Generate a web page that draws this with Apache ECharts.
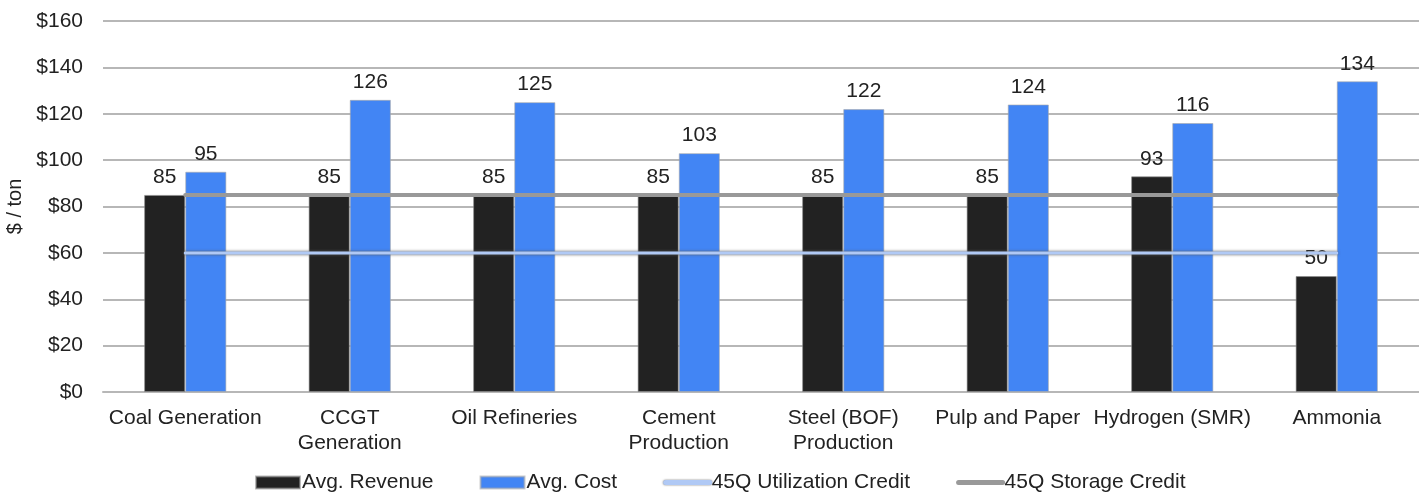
<!DOCTYPE html>
<html>
<head>
<meta charset="utf-8">
<script src="https://cdn.jsdelivr.net/npm/echarts@6/dist/echarts.min.js"></script>
<style>
  html, body { margin: 0; padding: 0; background: #fff; }
  #chart { width: 1419px; height: 496px; }
</style>
</head>
<body>
<div id="chart"></div>
<script>
// Capture cost vs. revenue by industrial source ($ / ton)
const categories = [
  'Coal Generation', 'CCGT\nGeneration', 'Oil Refineries', 'Cement\nProduction',
  'Steel (BOF)\nProduction', 'Pulp and Paper', 'Hydrogen (SMR)', 'Ammonia'
];
const avgRevenue = [85, 85, 85, 85, 85, 85, 93, 50];
const avgCost = [95, 126, 125, 103, 122, 124, 116, 134];
const utilizationCredit = [60, 60, 60, 60, 60, 60, 60, 60];
const storageCredit = [85, 85, 85, 85, 85, 85, 85, 85];

const FONT = '"Liberation Sans", Arial, Helvetica, sans-serif';
const TEXT = '#222';
const FS = 21;

const UTIL_BLUE = '#b0c9f5';
const STORAGE_GREY = '#999999';

const chart = echarts.init(document.getElementById('chart'), null, { renderer: 'canvas' });

const valueLabel = {
  show: true,
  position: 'top',
  distance: 7,
  color: TEXT,
  fontFamily: FONT,
  fontSize: FS
};

// line legend entries: a thick rounded stroke, no marker
const hiddenMarker = { opacity: 0, borderWidth: 0 };

chart.setOption({
  animation: false,
  backgroundColor: '#fff',
  textStyle: { fontFamily: FONT, color: TEXT },
  grid: { left: 103, right: 0, top: 21, bottom: 104, outerBoundsMode: 'none', containLabel: false },
  legend: {
    bottom: -2,
    left: 250,
    itemWidth: 44,
    itemHeight: 12,
    itemGap: 46,
    textStyle: { fontFamily: FONT, fontSize: FS, color: TEXT, padding: [0, 0, 0, -3] },
    data: [
      { name: 'Avg. Revenue', icon: 'rect' },
      { name: 'Avg. Cost', icon: 'rect' },
      {
        name: '45Q Utilization Credit',
        itemStyle: hiddenMarker,
        lineStyle: { color: UTIL_BLUE, width: 5, cap: 'round', shadowColor: 'rgba(90,90,90,0.9)', shadowBlur: 2 }
      },
      {
        name: '45Q Storage Credit',
        itemStyle: hiddenMarker,
        lineStyle: { color: STORAGE_GREY, width: 5, cap: 'round' }
      }
    ]
  },
  xAxis: {
    type: 'category',
    data: categories,
    boundaryGap: true,
    axisLine: { show: true, lineStyle: { color: '#b7b7b7', width: 2 } },
    axisTick: { show: false },
    axisLabel: {
      color: TEXT,
      fontFamily: FONT,
      fontSize: FS,
      margin: 14,
      lineHeight: 25,
      interval: 0
    }
  },
  yAxis: {
    type: 'value',
    min: 0,
    max: 160,
    interval: 20,
    name: '$ / ton',
    nameLocation: 'middle',
    nameGap: 76,
    nameRotate: 90,
    nameTextStyle: { color: TEXT, fontFamily: FONT, fontSize: 20 },
    axisLine: { show: false },
    axisTick: { show: false },
    axisLabel: {
      color: TEXT,
      fontFamily: FONT,
      fontSize: FS,
      margin: 20,
      formatter: v => '$' + v
    },
    splitLine: { lineStyle: { color: '#b7b7b7', width: 2 } }
  },
  series: [
    {
      name: 'Avg. Revenue',
      type: 'bar',
      data: avgRevenue,
      barGap: '0%',
      barCategoryGap: '50%',
      itemStyle: { color: '#222222', borderColor: 'rgba(140,140,140,0.6)', borderWidth: 1 },
      label: valueLabel,
      z: 2
    },
    {
      name: 'Avg. Cost',
      type: 'bar',
      data: avgCost,
      itemStyle: { color: '#4285f4', borderColor: 'rgba(170,170,170,0.6)', borderWidth: 1 },
      label: valueLabel,
      z: 2
    },
    {
      name: '45Q Utilization Credit',
      type: 'line',
      data: utilizationCredit,
      symbol: 'none',
      itemStyle: { color: UTIL_BLUE },
      lineStyle: {
        color: UTIL_BLUE,
        width: 3,
        cap: 'round',
        shadowColor: 'rgba(90,90,90,1)',
        shadowBlur: 3
      },
      z: 3
    },
    {
      name: '45Q Storage Credit',
      type: 'line',
      data: storageCredit,
      symbol: 'none',
      itemStyle: { color: STORAGE_GREY },
      lineStyle: { color: STORAGE_GREY, width: 4, cap: 'round' },
      z: 3
    }
  ]
});
</script>
</body>
</html>
